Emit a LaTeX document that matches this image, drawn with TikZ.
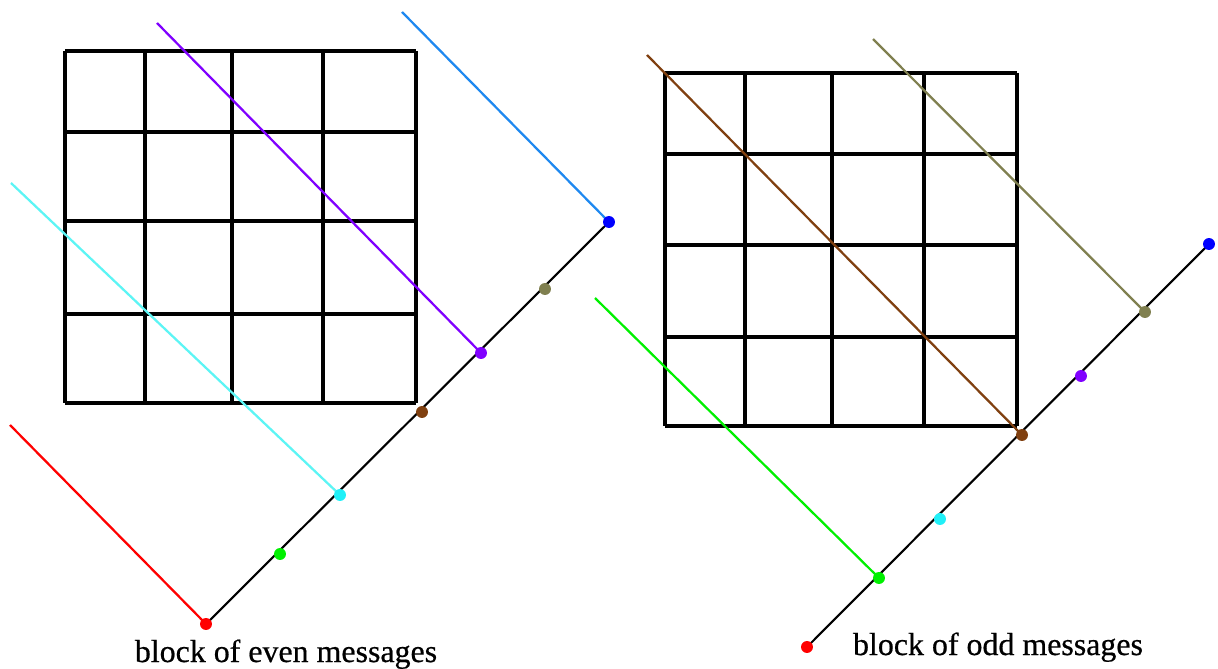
\documentclass[tikz,border=0pt]{standalone}
\usepackage{fontspec}
\setmainfont{Liberation Serif}
\newfontfamily\capfont[FakeBold=0.6]{Liberation Serif}
\definecolor{cred}{HTML}{FF0000}
\definecolor{cgreen}{HTML}{00F000}
\definecolor{ccyan}{HTML}{5CF5F5}
\definecolor{ccyandot}{HTML}{20F0F8}
\definecolor{cbrown}{HTML}{804010}
\definecolor{cpurple}{HTML}{8000FF}
\definecolor{colive}{HTML}{808050}
\definecolor{cblue}{HTML}{0000FF}
\definecolor{cblueline}{HTML}{1E88F0}
\begin{document}
\begin{tikzpicture}[x=0.025cm,y=-0.025cm,
  gridline/.style={line width=2.4pt,black},
  axisline/.style={line width=1.5pt,black},
  msgline/.style={line width=1.6pt},
  dot/.style={circle,inner sep=0pt,minimum size=8.5pt,fill=#1},
  caption/.style={anchor=base,font=\capfont\fontsize{22.7}{27}\selectfont}]
\useasboundingbox (0,0) rectangle (1218,669);
\fill[white] (0,0) rectangle (1218,669);

% ---------- left grid ----------
\foreach \x in {65,145,232,323,416} \draw[gridline] (\x,51) -- (\x,403);
\foreach \y in {51,132,221,314,403} \draw[gridline] (65,\y) -- (416,\y);

% ---------- right grid ----------
\foreach \x in {665,745,832,924,1017} \draw[gridline] (\x,73) -- (\x,426);
\foreach \y in {73,154,245,337,426} \draw[gridline] (665,\y) -- (1017,\y);

% ---------- left block ----------
\coordinate (Lr) at (206,624);
\coordinate (Lg) at (280,554);
\coordinate (Lc) at (340,495);
\coordinate (Lbr) at (422,412);
\coordinate (Lp) at (481,353);
\coordinate (Lo) at (545,289);
\coordinate (Lb) at (609,222);

\coordinate (Lrs) at (10,425);
\coordinate (Lcs) at (11,183);
\coordinate (Lps) at (157,23);
\coordinate (Lbs) at (402,12);

\draw[axisline] (Lr) -- (Lb);
\draw[msgline,cred] (Lrs) -- (Lr);
\draw[msgline,ccyan] (Lcs) -- (Lc);
\draw[msgline,cpurple] (Lps) -- (Lp);
\draw[msgline,cblueline] (Lbs) -- (Lb);
\node[dot=cred]     (dLr)  at (Lr) {};
\node[dot=cgreen]   (dLg)  at (Lg) {};
\node[dot=ccyandot] (dLc)  at (Lc) {};
\node[dot=cbrown]   (dLbr) at (Lbr) {};
\node[dot=cpurple]  (dLp)  at (Lp) {};
\node[dot=colive]   (dLo)  at (Lo) {};
\node[dot=cblue]    (dLb)  at (Lb) {};

% ---------- right block ----------
\coordinate (Rr) at (807,647);
\coordinate (Rg) at (879,578);
\coordinate (Rc) at (940,519);
\coordinate (Rbr) at (1022,435);
\coordinate (Rp) at (1081,376);
\coordinate (Ro) at (1145,312);
\coordinate (Rb) at (1209,244);

\coordinate (Rgs) at (595,298);
\coordinate (Rbrs) at (647,55);
\coordinate (Ros) at (873,39);

\draw[axisline] (Rr) -- (Rb);
\draw[msgline,cgreen] (Rgs) -- (Rg);
\draw[msgline,cbrown] (Rbrs) -- (Rbr);
\draw[msgline,colive] (Ros) -- (Ro);
\node[dot=cred]     (dRr)  at (Rr) {};
\node[dot=cgreen]   (dRg)  at (Rg) {};
\node[dot=ccyandot] (dRc)  at (Rc) {};
\node[dot=cbrown]   (dRbr) at (Rbr) {};
\node[dot=cpurple]  (dRp)  at (Rp) {};
\node[dot=colive]   (dRo)  at (Ro) {};
\node[dot=cblue]    (dRb)  at (Rb) {};

% ---------- captions ----------
\node[caption] (capL) at (286,662) {block of even messages};
\node[caption] (capR) at (998,655) {block of odd messages};
\end{tikzpicture}
\end{document}
